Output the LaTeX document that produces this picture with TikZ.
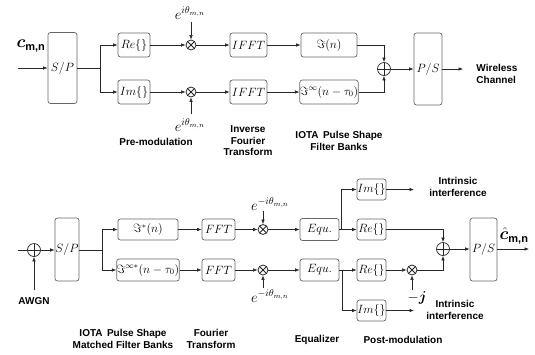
\documentclass[tikz,border=0pt]{standalone}
\usepackage{fontspec}
\setsansfont{Liberation Sans}
\usepackage{amsmath,amssymb,bm}
\usetikzlibrary{arrows.meta,calc}
\begin{document}
\begin{tikzpicture}[x=1pt,y=-1pt,
 box/.style={draw=black!60, rounded corners=2.5pt, line width=0.7pt, inner sep=0pt, font=\fontsize{11.5}{13}\selectfont},
 mult/.style={circle, draw=black!85, line width=0.8pt, minimum size=10pt, inner sep=0pt,
   path picture={\draw[line width=0.8pt] (path picture bounding box.north west)--(path picture bounding box.south east) (path picture bounding box.north east)--(path picture bounding box.south west);}},
 addr/.style={circle, draw=black!85, line width=0.7pt, minimum size=13pt, inner sep=0pt,
   path picture={\draw[line width=0.7pt] (path picture bounding box.north)--(path picture bounding box.south) (path picture bounding box.west)--(path picture bounding box.east);}},
 lbl/.style={font=\sffamily\bfseries\fontsize{10}{11.5}\selectfont, align=center, inner sep=0pt},
 elbl/.style={font=\fontsize{14}{14}\selectfont, inner sep=0pt},
 arr/.style={-{Latex[length=4.5pt,width=3.5pt]}, line width=0.6pt, draw=black!85},
 ln/.style={line width=0.6pt, draw=black!85},
]
\useasboundingbox (0,0) rectangle (535,354);

% ---------------- top (transmitter) ----------------
\node[font=\fontsize{16}{16}\selectfont] (cin) at (31,46) {$\bm{c}_{\textsf{\bfseries\fontsize{11}{11}\selectfont m,n}}$};
\coordinate (in1) at (18,68);
\node[box, minimum width=29pt, minimum height=71pt] (SP1) at (62.5,68) {$S/P$};
\node[box, minimum width=32pt, minimum height=24pt] (Re1) at (134,45) {$Re\{\}$};
\node[box, minimum width=32pt, minimum height=24pt] (Im1) at (134,92) {$Im\{\}$};
\node[mult] (m1) at (191,45) {};
\node[mult] (m2) at (191,92) {};
\node[elbl] (e1) at (190,13) {$e^{i\theta_{m,n}}$};
\node[elbl] (e2) at (190,125) {$e^{i\theta_{m,n}}$};
\coordinate (e1b) at (191,22);
\coordinate (e2b) at (191,114);
\node[box, minimum width=37pt, minimum height=24pt] (IF1) at (248.5,45) {$IFFT$};
\node[box, minimum width=37pt, minimum height=24pt] (IF2) at (248.5,92) {$IFFT$};
\node[box, minimum width=56pt, minimum height=24pt] (F1) at (329,45) {$\Im(n)$};
\node[box, minimum width=56pt, minimum height=24pt] (F2) at (329,92) {$\Im^{\infty}(n-\tau_0)$};
\node[addr] (p1) at (384,69) {};
\node[box, minimum width=28pt, minimum height=72pt] (PS1) at (428,69) {$P/S$};
\coordinate (out1) at (463,69);
\node[lbl, align=left] (wc) at (497,74) {Wireless\\Channel};

\coordinate (s1) at (100,68);
\draw[arr] (in1) -- (SP1.west |- in1);
\draw[ln] (SP1.east |- s1) -- (s1);
\draw[arr] (s1) |- (Re1.west);
\draw[arr] (s1) |- (Im1.west);
\draw[arr] (Re1.east) -- (m1.west);
\draw[arr] (Im1.east) -- (m2.west);
\draw[arr] (e1b) -- (m1.north);
\draw[arr] (e2b) -- (m2.south);
\draw[arr] (m1.east) -- (IF1.west);
\draw[arr] (m2.east) -- (IF2.west);
\draw[arr] (IF1.east) -- (F1.west);
\draw[arr] (IF2.east) -- (F2.west);
\draw[arr] (F1.east) -| (p1.north);
\draw[arr] (F2.east) -| (p1.south);
\draw[arr] (p1.east) -- (PS1.west |- p1);
\draw[arr] (PS1.east |- out1) -- (out1);

\node[lbl] (t1) at (156,142) {Pre-modulation};
\node[lbl] (t2) at (248,141) {Inverse\\Fourier\\Transform};
\node[lbl] (t3) at (339,141) {IOTA\, Pulse Shape\\Filter Banks};

% ---------------- bottom (receiver) ----------------
\coordinate (in2) at (18,250);
\node[addr] (pA) at (34,250) {};
\coordinate (aw) at (34,290);
\node[lbl] (awgn) at (34,301) {AWGN};
\node[box, minimum width=24pt, minimum height=63pt] (SP2) at (67,249.5) {$S/P$};
\coordinate (s2) at (102,250);
\node[box, minimum width=60pt, minimum height=21pt] (G1) at (148,229.5) {$\Im^{*}(n)$};
\node[box, minimum width=60pt, minimum height=22pt] (G2) at (148,270) {$\Im^{\infty *}(n-\tau_0)$};
\node[box, minimum width=33pt, minimum height=21pt] (FF1) at (218.5,229.5) {$FFT$};
\node[box, minimum width=33pt, minimum height=22pt] (FF2) at (218.5,270) {$FFT$};
\node[mult] (m3) at (263,229.5) {};
\node[mult] (m4) at (263,270) {};
\node[elbl] (e3) at (270,204) {$e^{-i\theta_{m,n}}$};
\node[elbl] (e4) at (270,296) {$e^{-i\theta_{m,n}}$};
\coordinate (e3b) at (263,211);
\coordinate (e4b) at (263,288);
\node[box, minimum width=39pt, minimum height=22pt] (EQ1) at (319.5,229.5) {$Equ.$};
\node[box, minimum width=39pt, minimum height=22pt] (EQ2) at (319.5,270) {$Equ.$};
\node[box, minimum width=29pt, minimum height=21pt] (ImT) at (371.5,189.5) {$Im\{\}$};
\node[box, minimum width=29pt, minimum height=21pt] (ReU) at (371.5,229.5) {$Re\{\}$};
\node[box, minimum width=29pt, minimum height=22pt] (ReL) at (371.5,270) {$Re\{\}$};
\node[box, minimum width=29pt, minimum height=21pt] (ImB) at (371.5,310.5) {$Im\{\}$};
\node[mult] (m5) at (412,270) {};
\coordinate (jb) at (412,290);
\node[elbl] (jl) at (417,298) {$-\bm{j}$};
\node[addr] (p2) at (443,249) {};
\node[box, minimum width=27pt, minimum height=63pt] (PS2) at (483.5,249.5) {$P/S$};
\coordinate (out2) at (529,249);
\node[font=\fontsize{16}{16}\selectfont] (chat) at (514,236) {$\hat{\bm{c}}_{\textsf{\bfseries\fontsize{11}{11}\selectfont m,n}}$};
\coordinate (ii1) at (414,189.5);
\coordinate (ii2) at (414,310.5);
\node[lbl] (int1) at (458,187) {Intrinsic\\interference};
\node[lbl] (int2) at (455,310) {Intrinsic\\interference};
\coordinate (s3) at (341,229.5);
\coordinate (s4) at (342,270);

\draw[ln] (in2) -- (pA.west);
\draw[arr] (aw) -- (pA.south);
\draw[arr] (pA.east) -- (SP2.west |- pA);
\draw[ln] (SP2.east |- s2) -- (s2);
\draw[arr] (s2) |- (G1.west);
\draw[arr] (s2) |- (G2.west);
\draw[arr] (G1.east) -- (FF1.west);
\draw[arr] (G2.east) -- (FF2.west);
\draw[arr] (FF1.east) -- (m3.west);
\draw[arr] (FF2.east) -- (m4.west);
\draw[arr] (e3b) -- (m3.north);
\draw[arr] (e4b) -- (m4.south);
\draw[arr] (m3.east) -- (EQ1.west);
\draw[arr] (m4.east) -- (EQ2.west);
\draw[arr] (EQ1.east) -- (ReU.west);
\draw[arr] (s3) |- (ImT.west);
\draw[arr] (EQ2.east) -- (ReL.west);
\draw[arr] (s4) |- (ImB.west);
\draw[arr] (ImT.east) -- (ii1);
\draw[arr] (ImB.east) -- (ii2);
\draw[arr] (ReL.east) -- (m5.west);
\draw[arr] (jb) -- (m5.south);
\draw[arr] (ReU.east) -| (p2.north);
\draw[arr] (m5.east) -| (p2.south);
\draw[arr] (p2.east) -- (PS2.west |- p2);
\draw[arr] (PS2.east |- out2) -- (out2);

\node[lbl] (b1) at (123,339) {IOTA\, Pulse Shape\\Matched Filter Banks};
\node[lbl] (b2) at (211,339) {Fourier\\Transform};
\node[lbl] (b3) at (317,340) {Equalizer};
\node[lbl] (b4) at (403,340) {Post-modulation};
\end{tikzpicture}
\end{document}
